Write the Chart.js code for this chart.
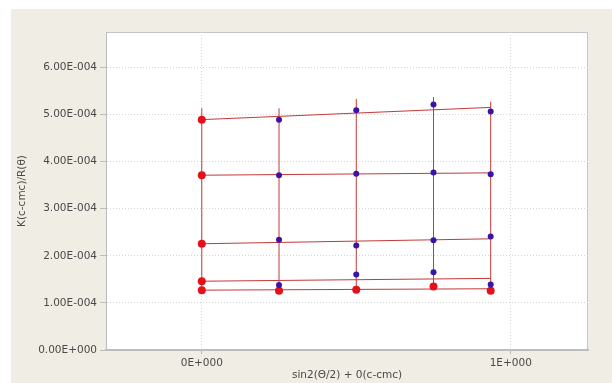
<!DOCTYPE html>
<html>
<head>
<meta charset="utf-8">
<script src="https://cdn.jsdelivr.net/npm/chart.js@4.4.0/dist/chart.umd.min.js"></script>
<style>
	html, body { margin: 0; padding: 0; background: #fff; }
</style>
</head>
<body>
<canvas id="zimmChart" width="612" height="383"></canvas>
<script>
// sin2(theta/2) of each angle column
let angleX = [0, 0.25, 0.5, 0.75, 0.935];

// measured points (blue), one list per concentration, columns 2..5
let conc1 = [4.89e-4, 5.09e-4, 5.21e-4, 5.06e-4];
let conc2 = [3.71e-4, 3.74e-4, 3.77e-4, 3.73e-4];
let conc3 = [2.34e-4, 2.22e-4, 2.33e-4, 2.41e-4];
let conc4 = [1.38e-4, 1.60e-4, 1.65e-4, 1.39e-4];

// extrapolated to zero angle (red, x = 0), top to bottom
let zeroAngle = [4.89e-4, 3.71e-4, 2.255e-4, 1.46e-4];
// extrapolated to zero concentration (red, bottom row), per column
let zeroConc = [1.27e-4, 1.26e-4, 1.28e-4, 1.35e-4, 1.26e-4];

// fitted lines
let rowStart = [4.89e-4, 3.71e-4, 2.255e-4, 1.46e-4, 1.27e-4];
let rowEnd = [5.15e-4, 3.76e-4, 2.36e-4, 1.52e-4, 1.30e-4];
let colTop = [5.13e-4, 5.13e-4, 5.33e-4, 5.37e-4, 5.27e-4];

// ticks
let xTickValues = [0, 1];
let xTickLabels = ['0E+000', '1E+000'];
let yTickValues = [0, 1e-4, 2e-4, 3e-4, 4e-4, 5e-4, 6e-4];
let yTickLabels = ['0.00E+000', '1.00E-004', '2.00E-004', '3.00E-004', '4.00E-004', '5.00E-004', '6.00E-004'];

const lineColor = '#c23a3a';
const blue = '#3a14a8';
const red = '#e3121a';
const textColor = '#4a4a4a';

let datasets = [];

// row lines (constant concentration)
rowStart.forEach((s, i) => {
	datasets.push({
		data: [{x: angleX[0], y: s}, {x: angleX[angleX.length - 1], y: rowEnd[i]}],
		showLine: true,
		pointRadius: 0,
		borderColor: lineColor,
		borderWidth: 1,
		order: 2
	});
});

// column lines (constant angle)
angleX.forEach((ax, i) => {
	datasets.push({
		data: [{x: ax, y: zeroConc[i]}, {x: ax, y: colTop[i]}],
		showLine: true,
		pointRadius: 0,
		borderColor: lineColor,
		borderWidth: 1,
		order: 2
	});
});

// measured points
let bluePts = [];
[conc1, conc2, conc3, conc4].forEach(row => {
	row.forEach((v, j) => bluePts.push({x: angleX[j + 1], y: v}));
});
datasets.push({
	data: bluePts,
	showLine: false,
	pointRadius: 3,
	pointBorderWidth: 0,
	backgroundColor: blue,
	order: 0
});

// extrapolated points
let redPts = [];
zeroAngle.forEach(v => redPts.push({x: 0, y: v}));
zeroConc.forEach((v, j) => redPts.push({x: angleX[j], y: v}));
datasets.push({
	data: redPts,
	showLine: false,
	pointRadius: 4,
	pointBorderWidth: 0,
	backgroundColor: red,
	order: 0
});

const panelBackground = {
	id: 'panelBackground',
	beforeDraw(chart) {
		const ctx = chart.ctx;
		const a = chart.chartArea;
		ctx.save();
		ctx.fillStyle = '#efede4';
		ctx.fillRect(11, 9, chart.width - 11, chart.height - 9);
		ctx.fillStyle = '#ffffff';
		ctx.fillRect(a.left, a.top, a.right - a.left, a.bottom - a.top);
		ctx.strokeStyle = '#c4c4c4';
		ctx.lineWidth = 1;
		ctx.strokeRect(a.left + 0.5, a.top + 0.5, a.right - a.left - 1, a.bottom - a.top - 1);
		ctx.restore();
	}
};

let font = {family: 'DejaVu Sans', size: 10.5};

new Chart(document.getElementById('zimmChart'), {
	type: 'scatter',
	data: {datasets: datasets},
	options: {
		responsive: false,
		animation: false,
		layout: {padding: {left: 0, top: 32, right: 24, bottom: 0}},
		plugins: {legend: {display: false}, tooltip: {enabled: false}},
		scales: {
			x: {
				type: 'linear',
				min: -0.31,
				max: 1.25,
				afterBuildTicks: s => { s.ticks = xTickValues.map(v => ({value: v})); },
				afterFit: s => { s.height = 33; },
				ticks: {
					autoSkip: false,
					maxRotation: 0,
					padding: 3,
					color: textColor,
					font: font,
					callback: (v, i) => xTickLabels[i]
				},
				grid: {color: '#d6d6d6', tickLength: 4, tickColor: '#bdbdbd'},
				border: {color: '#bcbcbc', width: 2, dash: [1, 2]},
				title: {
					display: true,
					text: 'sin2(Θ/2) + 0(c-cmc)',
					color: textColor,
					font: font,
					padding: {top: 0, bottom: 1}
				}
			},
			y: {
				type: 'linear',
				min: 0,
				max: 6.75e-4,
				afterBuildTicks: s => { s.ticks = yTickValues.map(v => ({value: v})); },
				afterFit: s => { s.width = 106; },
				ticks: {
					autoSkip: false,
					padding: 3,
					color: textColor,
					font: font,
					callback: (v, i) => yTickLabels[i]
				},
				grid: {color: '#d6d6d6', tickLength: 6, tickColor: '#bdbdbd'},
				border: {color: '#bcbcbc', width: 1, dash: [1, 2]},
				title: {
					display: true,
					text: 'K(c-cmc)/R(θ)',
					color: textColor,
					font: font,
					padding: {top: 16, bottom: 0}
				}
			}
		}
	},
	plugins: [panelBackground]
});
</script>
</body>
</html>
